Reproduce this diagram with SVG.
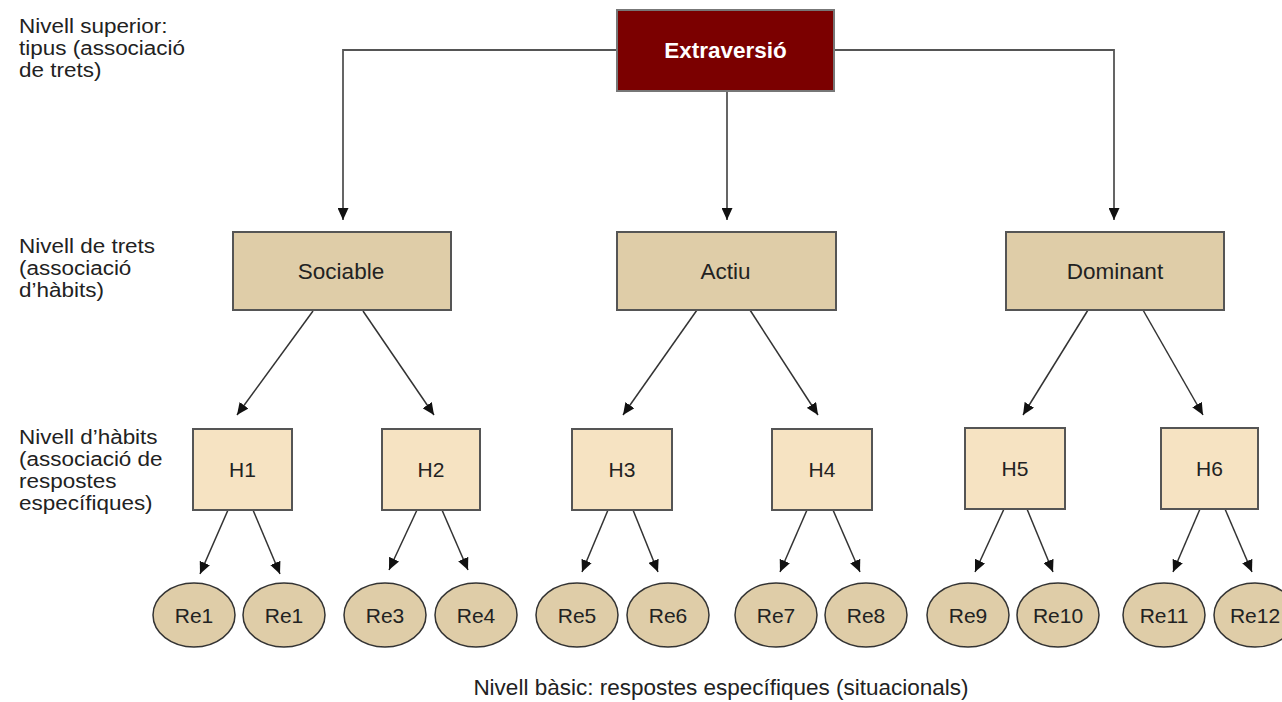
<svg xmlns="http://www.w3.org/2000/svg" width="1282" height="702" viewBox="0 0 1282 702">
<style>
text{font-family:"Liberation Sans",Arial,sans-serif;font-size:22.5px;fill:#222}
.lbl{text-anchor:middle}
.sm{font-size:21px}
.side text{font-size:21px}
.top{fill:#7b0000;stroke:#777;stroke-width:2}
.trait{fill:#dfcda8;stroke:#555;stroke-width:2}
.habit{fill:#f6e3c2;stroke:#555;stroke-width:2}
.resp{fill:#dfcda8;stroke:#333;stroke-width:1.5}
.con{fill:none;stroke:#333;stroke-width:1.5}
.con1{fill:none;stroke:#555;stroke-width:1.8}
</style>
<defs>
<marker id="ah" markerUnits="userSpaceOnUse" markerWidth="13" markerHeight="11" refX="12" refY="5.5" orient="auto">
<path d="M0,0 L12,5.5 L0,11 z" fill="#111"/>
</marker>
</defs>
<g id="levels">
<g class="side" transform="scale(1.07 1)">
<text x="17.8" y="33">Nivell superior:</text>
<text x="17.8" y="55">tipus (associació</text>
<text x="17.8" y="77">de trets)</text>
<text x="17.8" y="253">Nivell de trets</text>
<text x="17.8" y="275">(associació</text>
<text x="17.8" y="297">d’hàbits)</text>
<text x="17.8" y="444">Nivell d’hàbits</text>
<text x="17.8" y="466">(associació de</text>
<text x="17.8" y="488">respostes</text>
<text x="17.8" y="510">específiques)</text>
</g>
<text x="721" y="695" class="lbl">Nivell bàsic: respostes específiques (situacionals)</text>
</g>
<g id="connectors">
<path class="con1" d="M617,50 H343 V220" marker-end="url(#ah)"/>
<path class="con1" d="M727,91 V220" marker-end="url(#ah)"/>
<path class="con1" d="M834,50 H1114 V220" marker-end="url(#ah)"/>
<path class="con" d="M313,311 L237,415" marker-end="url(#ah)"/>
<path class="con" d="M363,311 L434,415" marker-end="url(#ah)"/>
<path class="con" d="M697,310 L623,415" marker-end="url(#ah)"/>
<path class="con" d="M750,310 L818,415" marker-end="url(#ah)"/>
<path class="con" d="M1088,310 L1023,415" marker-end="url(#ah)"/>
<path class="con" d="M1143,310 L1203,415" marker-end="url(#ah)"/>
<path class="con" d="M228,510 L200,574" marker-end="url(#ah)"/>
<path class="con" d="M253,510 L280,574" marker-end="url(#ah)"/>
<path class="con" d="M417,510 L389,570" marker-end="url(#ah)"/>
<path class="con" d="M442,510 L468,570" marker-end="url(#ah)"/>
<path class="con" d="M608,510 L582,572" marker-end="url(#ah)"/>
<path class="con" d="M633,510 L658,572" marker-end="url(#ah)"/>
<path class="con" d="M807,510 L780,572" marker-end="url(#ah)"/>
<path class="con" d="M833,510 L860,572" marker-end="url(#ah)"/>
<path class="con" d="M1004,509 L975,572" marker-end="url(#ah)"/>
<path class="con" d="M1027,509 L1053,572" marker-end="url(#ah)"/>
<path class="con" d="M1200,509 L1173,572" marker-end="url(#ah)"/>
<path class="con" d="M1225,509 L1252,572" marker-end="url(#ah)"/>
</g>
<g id="extraversio"><rect class="top" x="617" y="10" width="217" height="81"/><text class="lbl" x="725.5" y="58" style="fill:#fff;font-weight:bold">Extraversió</text></g>
<g id="sociable"><rect class="trait" x="233" y="232" width="218" height="78"/><text class="lbl" x="341" y="279">Sociable</text></g>
<g id="actiu"><rect class="trait" x="617" y="232" width="219" height="78"/><text class="lbl" x="725.5" y="279">Actiu</text></g>
<g id="dominant"><rect class="trait" x="1006" y="232" width="218" height="78"/><text class="lbl" x="1115" y="279">Dominant</text></g>
<g id="h1"><rect class="habit" x="193" y="429" width="99" height="81"/><text class="lbl sm" x="242.5" y="477">H1</text></g>
<g id="h2"><rect class="habit" x="382" y="429" width="98" height="81"/><text class="lbl sm" x="431" y="477">H2</text></g>
<g id="h3"><rect class="habit" x="572" y="429" width="100" height="81"/><text class="lbl sm" x="622" y="477">H3</text></g>
<g id="h4"><rect class="habit" x="772" y="429" width="100" height="81"/><text class="lbl sm" x="822" y="477">H4</text></g>
<g id="h5"><rect class="habit" x="965" y="428" width="100" height="81"/><text class="lbl sm" x="1015" y="476">H5</text></g>
<g id="h6"><rect class="habit" x="1161" y="428" width="97" height="81"/><text class="lbl sm" x="1209.5" y="476">H6</text></g>
<g id="re1a"><ellipse class="resp" cx="194" cy="615" rx="41" ry="32"/><text class="lbl sm" x="194" y="623">Re1</text></g>
<g id="re1b"><ellipse class="resp" cx="284" cy="615" rx="41" ry="32"/><text class="lbl sm" x="284" y="623">Re1</text></g>
<g id="re3"><ellipse class="resp" cx="385" cy="615" rx="41" ry="32"/><text class="lbl sm" x="385" y="623">Re3</text></g>
<g id="re4"><ellipse class="resp" cx="476" cy="615" rx="41" ry="32"/><text class="lbl sm" x="476" y="623">Re4</text></g>
<g id="re5"><ellipse class="resp" cx="577" cy="615" rx="41" ry="32"/><text class="lbl sm" x="577" y="623">Re5</text></g>
<g id="re6"><ellipse class="resp" cx="668" cy="615" rx="41" ry="32"/><text class="lbl sm" x="668" y="623">Re6</text></g>
<g id="re7"><ellipse class="resp" cx="776" cy="615" rx="41" ry="32"/><text class="lbl sm" x="776" y="623">Re7</text></g>
<g id="re8"><ellipse class="resp" cx="866" cy="615" rx="41" ry="32"/><text class="lbl sm" x="866" y="623">Re8</text></g>
<g id="re9"><ellipse class="resp" cx="968" cy="615" rx="41" ry="32"/><text class="lbl sm" x="968" y="623">Re9</text></g>
<g id="re10"><ellipse class="resp" cx="1058" cy="615" rx="41" ry="32"/><text class="lbl sm" x="1058" y="623">Re10</text></g>
<g id="re11"><ellipse class="resp" cx="1164" cy="615" rx="41" ry="32"/><text class="lbl sm" x="1164" y="623">Re11</text></g>
<g id="re12"><ellipse class="resp" cx="1255" cy="615" rx="41" ry="32"/><text class="lbl sm" x="1255" y="623">Re12</text></g>
</svg>
